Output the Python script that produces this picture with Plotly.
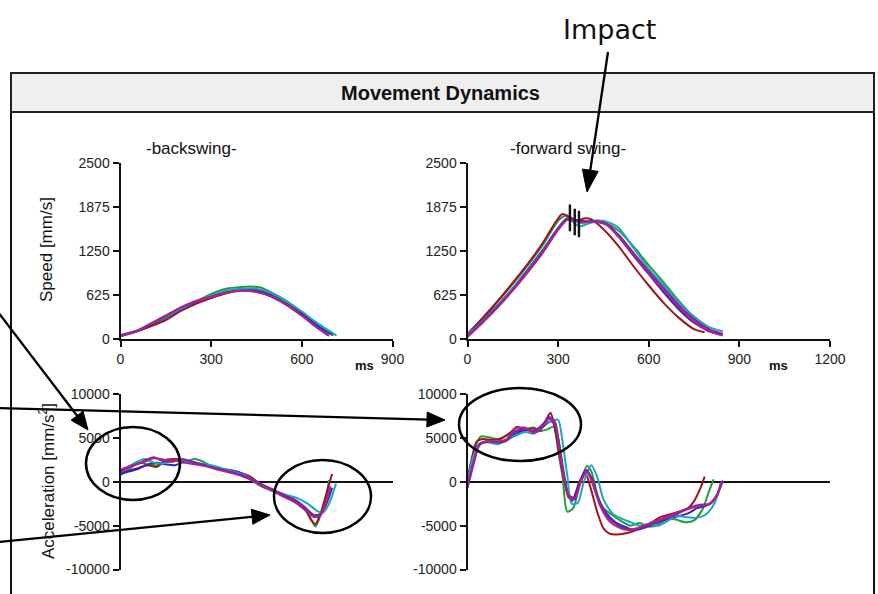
import math
import plotly.graph_objects as go

W, H = 878, 594

# ---------------- data (ms, value) ----------------
trial_names = ["Trial 1", "Trial 2", "Trial 3", "Trial 4", "Trial 5", "Trial 6"]
trial_colors = ["#1f9e3a", "#a0141e", "#2a2ab8", "#1aa8b8", "#7b1fb0", "#b0208a"]

# backswing speed [mm/s]
bs_speed_green = [(0, 50), (30, 80), (60, 120), (100, 200), (150, 300), (200, 420), (250, 530), (300, 640), (350, 715), (400, 740), (430, 745), (460, 735), (500, 660), (550, 540), (600, 380), (650, 205), (705, 50)]
bs_speed_red = [(0, 45), (30, 75), (60, 115), (100, 180), (150, 270), (200, 400), (250, 500), (300, 580), (350, 650), (400, 690), (450, 700), (500, 640), (550, 520), (600, 360), (650, 180), (685, 60)]
bs_speed_blue = [(0, 55), (30, 85), (60, 125), (100, 205), (150, 310), (200, 425), (250, 525), (300, 605), (350, 665), (400, 700), (450, 690), (500, 625), (550, 505), (600, 355), (650, 195), (700, 60)]
bs_speed_cyan = [(0, 60), (30, 90), (60, 130), (100, 215), (150, 315), (200, 430), (250, 540), (300, 620), (350, 690), (400, 715), (450, 715), (500, 650), (550, 530), (600, 390), (650, 230), (700, 90), (715, 50)]
bs_speed_purple = [(0, 40), (30, 80), (60, 120), (100, 215), (150, 330), (200, 450), (250, 540), (300, 600), (350, 660), (400, 690), (450, 670), (500, 600), (550, 480), (600, 330), (650, 160), (690, 45)]
bs_speed_magenta = [(0, 50), (30, 85), (60, 125), (100, 220), (150, 335), (200, 445), (250, 535), (300, 595), (350, 655), (400, 685), (450, 668), (500, 605), (550, 485), (600, 335), (650, 165), (688, 50)]

# forward swing speed [mm/s]
fs_speed_green = [(0, 70), (50, 290), (100, 530), (150, 780), (200, 1050), (250, 1340), (300, 1680), (325, 1750), (350, 1700), (380, 1650), (420, 1670), (460, 1640), (500, 1540), (550, 1310), (600, 1050), (650, 800), (700, 540), (750, 300), (795, 110)]
fs_speed_red = [(0, 70), (50, 300), (100, 540), (150, 800), (200, 1070), (250, 1370), (290, 1650), (314, 1775), (340, 1730), (360, 1680), (390, 1715), (410, 1700), (450, 1560), (500, 1320), (550, 1030), (600, 760), (650, 510), (700, 300), (750, 140), (785, 95)]
fs_speed_blue = [(0, 60), (50, 260), (100, 480), (150, 720), (200, 990), (250, 1270), (300, 1580), (330, 1715), (360, 1690), (400, 1670), (440, 1680), (480, 1560), (550, 1180), (600, 920), (650, 660), (700, 420), (750, 230), (800, 110), (835, 70)]
fs_speed_cyan = [(0, 60), (50, 250), (100, 470), (150, 710), (200, 970), (250, 1250), (300, 1560), (335, 1700), (370, 1600), (400, 1640), (450, 1680), (500, 1580), (550, 1290), (600, 1000), (650, 760), (700, 520), (750, 320), (800, 170), (845, 110)]
fs_speed_purple = [(0, 40), (50, 240), (100, 460), (150, 700), (200, 960), (250, 1240), (300, 1560), (330, 1700), (370, 1670), (420, 1670), (460, 1640), (500, 1480), (550, 1220), (600, 960), (650, 720), (700, 480), (750, 280), (800, 140), (845, 70)]
fs_speed_magenta = [(0, 30), (50, 230), (100, 450), (150, 690), (200, 950), (250, 1230), (300, 1550), (330, 1695), (370, 1660), (420, 1665), (460, 1620), (500, 1450), (550, 1190), (600, 930), (650, 690), (700, 450), (750, 250), (800, 110), (845, 50)]

# impact markers on forward swing speed
impact_ms = [339, 355, 369]
impact_speed = [1720, 1662, 1634]

# backswing acceleration [mm/s^2]
bs_acc_green = [(0, 800), (30, 1500), (60, 2200), (90, 2000), (120, 1900), (150, 2300), (180, 2500), (210, 2200), (240, 2600), (260, 2500), (290, 2000), (330, 1500), (370, 1000), (400, 900), (430, 300), (460, -400), (500, -1000), (540, -1500), (580, -2300), (610, -3200), (630, -4200), (645, -5100), (660, -4000), (680, -1800), (690, 200)]
bs_acc_red = [(0, 1000), (30, 1300), (60, 1600), (90, 1900), (120, 1700), (150, 2500), (180, 2600), (210, 2500), (250, 2100), (290, 1800), (330, 1500), (370, 1200), (400, 1000), (430, 600), (460, -200), (500, -800), (540, -1600), (580, -2300), (610, -3000), (630, -4300), (645, -4800), (660, -3800), (680, -1500), (700, 900)]
bs_acc_blue = [(0, 900), (30, 1200), (60, 1500), (90, 2000), (120, 2200), (150, 2000), (180, 1900), (210, 2300), (250, 2100), (290, 1800), (330, 1500), (370, 1300), (400, 1000), (430, 400), (460, -300), (500, -900), (540, -1400), (580, -2100), (610, -2900), (640, -3800), (665, -3600), (685, -2200), (700, -700)]
bs_acc_cyan = [(0, 1100), (30, 1800), (60, 2400), (80, 2600), (110, 2200), (140, 2100), (170, 2400), (200, 2500), (230, 2300), (260, 2100), (300, 1900), (340, 1500), (380, 1100), (420, 600), (460, -200), (500, -900), (540, -1400), (580, -1800), (620, -2500), (650, -3300), (670, -3500), (690, -2500), (713, -200)]
bs_acc_purple = [(0, 1200), (30, 1700), (60, 2100), (90, 2600), (110, 2800), (140, 2400), (170, 2300), (200, 2600), (240, 2300), (280, 1900), (320, 1500), (360, 1200), (400, 800), (440, 200), (480, -500), (520, -1200), (560, -1800), (600, -2600), (630, -3600), (655, -3900), (675, -2800), (695, -500)]
bs_acc_magenta = [(0, 1400), (40, 1900), (80, 2300), (110, 2700), (150, 2500), (190, 2400), (230, 2100), (280, 1800), (320, 1400), (370, 1000), (420, 400), (460, -300), (500, -1000), (540, -1700), (580, -2400), (610, -3200), (640, -4000), (660, -3900), (680, -2400), (695, -600)]

# forward swing acceleration [mm/s^2]
fs_acc_green = [(0, -200), (15, 2500), (30, 4400), (45, 5200), (70, 5100), (100, 4900), (130, 5300), (160, 5800), (190, 6000), (220, 6200), (240, 5800), (265, 6000), (285, 6300), (300, 3500), (315, 500), (330, -3400), (350, -3000), (370, -500), (395, 1800), (410, 1200), (430, -1500), (450, -3000), (480, -3800), (510, -4500), (540, -5000), (570, -4700), (600, -5100), (630, -4900), (660, -4200), (690, -4300), (720, -4600), (750, -4400), (780, -3000), (800, -1000), (815, 300)]
fs_acc_red = [(0, 300), (15, 2800), (30, 4600), (50, 4900), (80, 4800), (110, 4900), (140, 5600), (165, 6300), (190, 5900), (215, 6100), (240, 5900), (265, 7400), (275, 7900), (290, 6000), (305, 3000), (320, 200), (335, -1800), (350, -1900), (370, 0), (390, 1000), (410, -1000), (430, -3500), (450, -5300), (470, -5900), (490, -6000), (520, -5900), (550, -5600), (580, -5200), (610, -4600), (640, -4000), (670, -3700), (700, -3400), (730, -3000), (750, -2200), (770, -800), (785, 600)]
fs_acc_blue = [(0, 500), (15, 2200), (30, 4000), (50, 4500), (80, 4600), (110, 4500), (140, 5000), (170, 5700), (200, 5900), (230, 5700), (260, 6600), (280, 6900), (300, 5000), (315, 1800), (330, -1000), (345, -2200), (365, -700), (390, 1300), (410, 500), (430, -1700), (460, -3600), (490, -4600), (520, -5100), (550, -5500), (580, -5300), (610, -4900), (640, -4500), (670, -4200), (700, -3900), (730, -3600), (760, -3000), (790, -2700), (820, -2000), (840, 0)]
fs_acc_cyan = [(0, 0), (20, 3000), (40, 4400), (70, 4500), (100, 4300), (130, 4800), (160, 5300), (190, 5700), (220, 5500), (250, 6500), (280, 7000), (300, 7100), (315, 4500), (330, 800), (345, -2500), (365, -2400), (385, 0), (410, 1900), (430, 500), (450, -2000), (480, -3600), (510, -4200), (540, -4600), (570, -5000), (600, -4800), (630, -5000), (660, -4500), (690, -3900), (720, -4000), (760, -4100), (790, -3700), (815, -2600), (845, 200)]
fs_acc_purple = [(0, -700), (20, 2000), (40, 4200), (70, 4600), (100, 4500), (130, 4700), (160, 5800), (190, 6000), (220, 5800), (250, 6600), (270, 7400), (290, 6800), (305, 3800), (320, 500), (335, -1500), (355, -1800), (375, 200), (395, 1400), (415, 0), (440, -2500), (470, -4200), (500, -5000), (530, -5400), (560, -5500), (590, -5100), (620, -4700), (650, -4300), (680, -3900), (710, -3400), (740, -2900), (770, -2600), (800, -2500), (825, -1500), (845, 100)]
fs_acc_magenta = [(0, -300), (20, 2300), (40, 4300), (70, 4700), (100, 4600), (130, 4900), (160, 6100), (190, 6200), (220, 5600), (250, 6300), (270, 7200), (290, 6500), (305, 3500), (320, 300), (335, -1700), (355, -2000), (375, 0), (395, 1200), (415, -300), (440, -2800), (470, -4500), (500, -5200), (530, -5500), (560, -5300), (590, -4900), (620, -4500), (650, -4100), (680, -3700), (710, -3300), (740, -3000), (770, -2700), (800, -2600), (825, -1600), (840, 0)]

bs_speed = [bs_speed_green, bs_speed_red, bs_speed_blue, bs_speed_cyan, bs_speed_purple, bs_speed_magenta]
fs_speed = [fs_speed_green, fs_speed_red, fs_speed_blue, fs_speed_cyan, fs_speed_purple, fs_speed_magenta]
bs_acc = [bs_acc_green, bs_acc_red, bs_acc_blue, bs_acc_cyan, bs_acc_purple, bs_acc_magenta]
fs_acc = [fs_acc_green, fs_acc_red, fs_acc_blue, fs_acc_cyan, fs_acc_purple, fs_acc_magenta]

speed_ticks = [0, 625, 1250, 1875, 2500]
speed_tick_labels = ["0", "625", "1250", "1875", "2500"]
acc_ticks = [-10000, -5000, 0, 5000, 10000]
acc_tick_labels = ["-10000", "-5000", "0", "5000", "10000"]
bs_time_ticks = [0, 300, 600, 900]
fs_time_ticks = [0, 300, 600, 900, 1200]

# ---------------- figure ----------------
def px(x):
    return x / W

def py(y):
    return 1 - y / H

fig = go.Figure()

panels = [(bs_speed, "x", "y"), (fs_speed, "x2", "y2"), (bs_acc, "x3", "y3"), (fs_acc, "x4", "y4")]
for series_set, xa, ya in panels:
    for name, color, pts in zip(trial_names, trial_colors, series_set):
        fig.add_trace(go.Scatter(
            x=[p[0] for p in pts], y=[p[1] for p in pts], mode="lines", name=name,
            line=dict(color=color, width=2, shape="spline", smoothing=0.7),
            xaxis=xa, yaxis=ya, showlegend=False, hoverinfo="skip"))

fig.add_trace(go.Scatter(
    x=impact_ms, y=impact_speed, mode="markers", xaxis="x2", yaxis="y2",
    marker=dict(symbol="line-ns", size=19, line=dict(color="#111111", width=2.4)),
    showlegend=False, hoverinfo="skip"))

FONT = "Liberation Sans, Arial, sans-serif"
tickfont = dict(family=FONT, size=14, color="#222222")

dom_x_left = [px(120.5), px(392.5)]
dom_x_right = [px(467.5), px(830)]
dom_y_top = [py(339), py(163)]
dom_y_bot = [py(569.5), py(394.3)]

def xaxis_vis(domain, rng, ticks, anchor):
    return dict(domain=domain, range=rng, tickvals=ticks, ticktext=[str(t) for t in ticks],
                showline=True, linecolor="#111111", linewidth=2,
                ticks="outside", ticklen=6, tickwidth=2, tickcolor="#111111", tickfont=tickfont,
                showgrid=False, zeroline=False, anchor=anchor, fixedrange=True, automargin=False)

def yaxis_vis(domain, rng, ticks, labels, anchor, zero=False):
    return dict(domain=domain, range=rng, tickvals=ticks, ticktext=labels,
                showline=True, linecolor="#111111", linewidth=2,
                ticks="outside", ticklen=6, tickwidth=2, tickcolor="#111111", tickfont=tickfont,
                showgrid=False, zeroline=zero, zerolinecolor="#111111", zerolinewidth=2,
                anchor=anchor, fixedrange=True, automargin=False)

def xaxis_hidden(domain, rng, anchor):
    return dict(domain=domain, range=rng, showline=False, showticklabels=False, ticks="",
                showgrid=False, zeroline=False, anchor=anchor, fixedrange=True, automargin=False)

fig.update_layout(
    width=W, height=H, margin=dict(l=0, r=0, t=0, b=0, pad=0, autoexpand=False),
    paper_bgcolor="white", plot_bgcolor="rgba(0,0,0,0)",
    xaxis=xaxis_vis(dom_x_left, [0, 900], bs_time_ticks, "y"),
    yaxis=yaxis_vis(dom_y_top, [0, 2500], speed_ticks, speed_tick_labels, "x"),
    xaxis2=xaxis_vis(dom_x_right, [0, 1200], fs_time_ticks, "y2"),
    yaxis2=yaxis_vis(dom_y_top, [0, 2500], speed_ticks, speed_tick_labels, "x2"),
    xaxis3=xaxis_hidden(dom_x_left, [0, 900], "y3"),
    yaxis3=yaxis_vis(dom_y_bot, [-10000, 10000], acc_ticks, acc_tick_labels, "x3", zero=True),
    xaxis4=xaxis_hidden(dom_x_right, [0, 1200], "y4"),
    yaxis4=yaxis_vis(dom_y_bot, [-10000, 10000], acc_ticks, acc_tick_labels, "x4", zero=True),
)

shapes = [
    # outer frame
    dict(type="rect", xref="paper", yref="paper", x0=px(11), x1=px(874), y0=py(600), y1=py(73),
         line=dict(color="#111111", width=2), fillcolor="rgba(0,0,0,0)", layer="below"),
    # header band
    dict(type="rect", xref="paper", yref="paper", x0=px(11), x1=px(874), y0=py(112), y1=py(73),
         line=dict(color="#222222", width=2), fillcolor="#efefef", layer="below"),
    # ellipses
    dict(type="circle", xref="paper", yref="paper", x0=px(86), x1=px(180), y0=py(500), y1=py(427),
         line=dict(color="#000000", width=2.5)),
    dict(type="circle", xref="paper", yref="paper", x0=px(274), x1=px(371), y0=py(533), y1=py(460),
         line=dict(color="#000000", width=2.5)),
    dict(type="circle", xref="paper", yref="paper", x0=px(459), x1=px(581), y0=py(461), y1=py(388),
         line=dict(color="#000000", width=2.5)),
]

def arrow_shapes(tail, tip, head_len=18, head_w=15, width=2.3):
    dx, dy = tip[0] - tail[0], tip[1] - tail[1]
    L = math.hypot(dx, dy)
    ux, uy = dx / L, dy / L
    nx, ny = -uy, ux
    bx, by = tip[0] - ux * head_len, tip[1] - uy * head_len
    p1 = (bx + nx * head_w / 2, by + ny * head_w / 2)
    p2 = (bx - nx * head_w / 2, by - ny * head_w / 2)
    line = dict(type="line", xref="paper", yref="paper", x0=px(tail[0]), y0=py(tail[1]),
                x1=px(bx + ux * 2), y1=py(by + uy * 2), line=dict(color="#000000", width=width))
    path = "M {} {} L {} {} L {} {} Z".format(px(tip[0]), py(tip[1]), px(p1[0]), py(p1[1]), px(p2[0]), py(p2[1]))
    head = dict(type="path", xref="paper", yref="paper", path=path, fillcolor="#000000",
                line=dict(color="#000000", width=1))
    return [line, head]

shapes += arrow_shapes((608, 52), (587, 192), head_len=22, head_w=16)
shapes += arrow_shapes((-2, 312), (88, 430))
shapes += arrow_shapes((-2, 408), (445, 420))
shapes += arrow_shapes((-2, 542), (270, 515))
fig.update_layout(shapes=shapes)

def label(x, y, text, size, bold=False, family=FONT, angle=0, color="#111111"):
    return dict(x=px(x), y=py(y), xref="paper", yref="paper", text=f"<b>{text}</b>" if bold else text,
                showarrow=False, textangle=angle, xanchor="center", yanchor="middle",
                font=dict(family=family, size=size, color=color))

annotations = [
    label(440, 93, "Movement Dynamics", 20, bold=True),
    label(609, 30, "Impact", 27, family="DejaVu Sans, Verdana, sans-serif"),
    label(191, 148, "-backswing-", 17),
    label(568, 148, "-forward swing-", 17),
    label(47, 250, "Speed [mm/s]", 17, angle=-90),
    label(47, 481, "Acceleration [mm/s<sup>2</sup>]", 17, angle=-90),
    label(364, 365, "ms", 13, bold=True),
    label(778, 365, "ms", 13, bold=True),
]
fig.update_layout(annotations=annotations)

fig.write_html("out.html", config={"displayModeBar": False},
               post_script="document.body.style.margin='0px';document.body.style.overflow='hidden';")
